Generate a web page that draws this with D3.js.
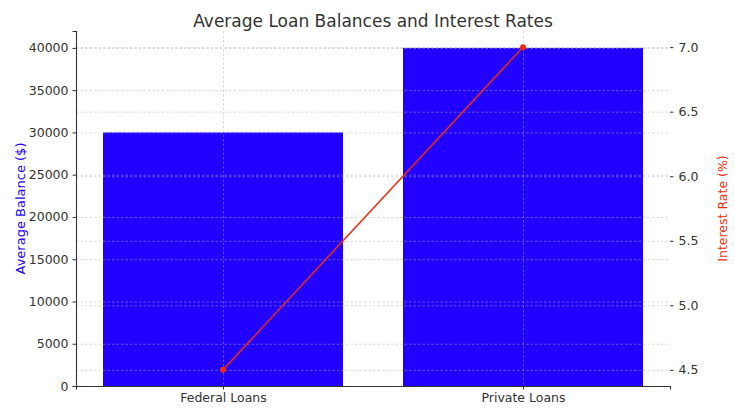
<!DOCTYPE html>
<html>
<head>
<meta charset="utf-8">
<script src="https://cdn.jsdelivr.net/npm/d3@7"></script>
<style>
  body { margin: 0; background: #fff; }
  svg text { font-family: "DejaVu Sans", sans-serif; fill: #333; }
</style>
</head>
<body>
<div id="chart"></div>
<script>
// data
const categories = ['Federal Loans', 'Private Loans'];
const balances = [30000, 40000];
const rates = [4.5, 7.0];
const balanceTicks = [0, 5000, 10000, 15000, 20000, 25000, 30000, 35000, 40000];
const rateTicks = [4.5, 5.0, 5.5, 6.0, 6.5, 7.0];

const W = 735, H = 414;
const m = { left: 76, right: 65, top: 31, bottom: 28 };
const barColor = '#2200ff', lineColor = '#f02a0a';

const svg = d3.select('#chart').append('svg')
  .attr('width', W).attr('height', H);

const x = d3.scaleLinear().domain([-0.49, 1.49]).range([m.left, W - m.right]);
const y = d3.scaleLinear().domain([0, 42000]).range([H - m.bottom, m.top]);
const y2 = d3.scaleLinear().domain([4.375, 7.125]).range([H - m.bottom, m.top]);

// bars
svg.selectAll('rect.bar')
  .data(balances)
  .enter()
  .append('rect')
  .attr('class', 'bar')
  .attr('x', (d, i) => x(i - 0.4))
  .attr('width', x(0.4) - x(-0.4))
  .attr('y', d => y(d))
  .attr('height', d => y(0) - y(d))
  .attr('fill', barColor);

// grids on top, like the reference
const grid = svg.append('g')
  .attr('stroke', '#b0b0b0').attr('stroke-opacity', 0.6)
  .attr('stroke-width', 0.8).attr('stroke-dasharray', '2.5,2');
grid.selectAll('line.gy')
  .data(balanceTicks).enter().append('line')
  .attr('x1', m.left).attr('x2', W - m.right)
  .attr('y1', d => y(d) + 0.5).attr('y2', d => y(d) + 0.5);
grid.selectAll('line.gy2')
  .data(rateTicks).enter().append('line')
  .attr('x1', m.left).attr('x2', W - m.right)
  .attr('y1', d => y2(d) + 0.5).attr('y2', d => y2(d) + 0.5);
grid.selectAll('line.gx')
  .data(categories).enter().append('line')
  .attr('x1', (d, i) => x(i) + 0.5).attr('x2', (d, i) => x(i) + 0.5)
  .attr('y1', m.top).attr('y2', H - m.bottom);

// axes
const leftAxis = svg.append('g')
  .attr('transform', `translate(${m.left},0)`)
  .call(d3.axisLeft(y).tickValues(balanceTicks).tickFormat(d3.format('d')).tickSize(3.5).tickPadding(4));
const rightAxis = svg.append('g')
  .attr('transform', `translate(${W - m.right},0)`)
  .call(d3.axisRight(y2).tickValues(rateTicks).tickFormat(d3.format('.1f')).tickSize(3.5).tickPadding(5));
const bottomAxis = svg.append('g')
  .attr('transform', `translate(0,${H - m.bottom})`)
  .call(d3.axisBottom(x).tickValues([0, 1]).tickFormat(i => categories[i]).tickSize(3.5).tickPadding(4));

[leftAxis, rightAxis, bottomAxis].forEach(g => {
  g.selectAll('text').style('font-size', '12.5px').attr('fill', '#333');
  g.selectAll('line').attr('stroke', '#333');
  g.select('.domain').attr('stroke', '#333').attr('stroke-width', 1.1);
});
rightAxis.select('.domain').remove();

// interest rate line
const line = d3.line().x((d, i) => x(i)).y(d => y2(d));
svg.append('path')
  .datum(rates)
  .attr('d', line)
  .attr('fill', 'none')
  .attr('stroke', lineColor)
  .attr('stroke-width', 1.5);
svg.selectAll('circle.pt')
  .data(rates).enter().append('circle')
  .attr('cx', (d, i) => x(i)).attr('cy', d => y2(d))
  .attr('r', 3).attr('fill', lineColor);

// labels
svg.append('text')
  .attr('x', (m.left + W - m.right) / 2).attr('y', 27)
  .attr('text-anchor', 'middle')
  .style('font-size', '17px')
  .text('Average Loan Balances and Interest Rates');
svg.append('text')
  .attr('transform', `translate(25,${(m.top + H - m.bottom) / 2}) rotate(-90)`)
  .attr('text-anchor', 'middle')
  .style('font-size', '13px').style('fill', barColor)
  .text('Average Balance ($)');
svg.append('text')
  .attr('transform', `translate(727,${(m.top + H - m.bottom) / 2}) rotate(-90)`)
  .attr('text-anchor', 'middle')
  .style('font-size', '12.5px').style('fill', lineColor)
  .text('Interest Rate (%)');
</script>
</body>
</html>
